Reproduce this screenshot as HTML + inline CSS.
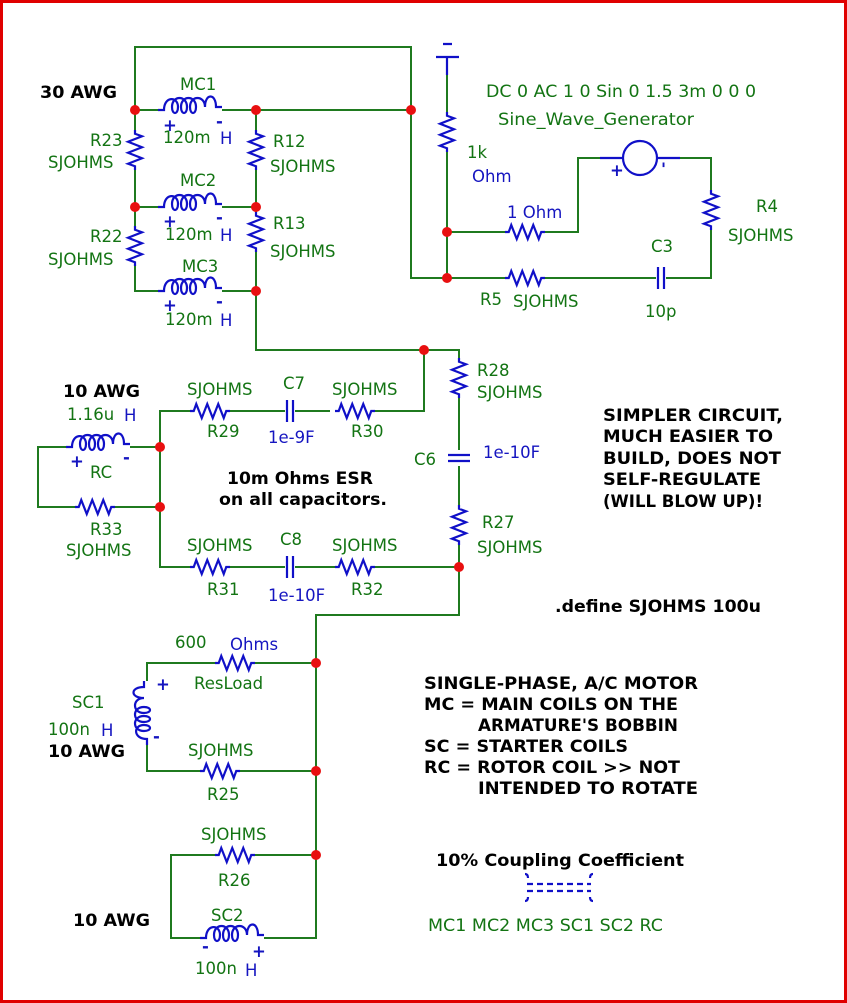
<!DOCTYPE html>
<html><head><meta charset="utf-8"><style>
html,body{margin:0;padding:0;background:#fff;}
svg{display:block;}
text{font-family:"DejaVu Sans","Liberation Sans",sans-serif;font-size:16.5px;}
.g{fill:#137413;}
.b{fill:#1515c0;}
.k{fill:#000;font-weight:bold;}
.w{stroke:#1f7a1f;stroke-width:2;fill:none;}
.c{stroke:#1010c8;stroke-width:2.2;fill:none;}
</style></head><body>
<svg width="847" height="1003" viewBox="0 0 847 1003" xmlns="http://www.w3.org/2000/svg">
<defs>
<path id="res" d="M0,0 h3.75 l2.5,-7 l5.5,14 l5.5,-14 l5.5,14 l5.5,-14 l5.5,14 l2.5,-7 h3.75"/>
<path id="ind" d="M0,0 h6 c0,-14 14,-14 14,-3 c0,8 -6,8 -6,0 c0,-12 15,-12 15,0 c0,8 -6,8 -6,0 c0,-12 15,-12 15,0 c0,8 -6,8 -6,0 c0,-12 15,-12 15,0 c0,-14 11,-14 11,0 h6"/>
</defs>
<rect x="1.5" y="1.5" width="844" height="1000" fill="#fff" stroke="#e00000" stroke-width="3"/>

<g class="w">
<path d="M135,110 V47 H411 V278 H505"/>
<path d="M135,110 H158 M222,110 H411"/>
<path d="M135,110 V130 M135,170 V226 M135,266 V291 H158 M222,291 H256"/>
<path d="M135,207 H158 M222,207 H256"/>
<path d="M256,110 V130 M256,170 V212 M256,252 V350 H459 V358 M459,398 V450 M459,466 V505 M459,545 V615 H316 V938 H264"/>
<path d="M424,350 V411 H375 M330,411 H295 M285,411 H230 M190,411 H160 V567 H190 M230,567 H285 M295,567 H335 M375,567 H459"/>
<path d="M160,447 H130 M66,447 H38 V507 H75 M115,507 H160"/>
<path d="M447,75 V112 M447,152 V278 M447,232 H505 M545,232 H578 V158 H600 M680,158 H711 V190 M711,230 V278 H666 M656,278 H545"/>
<path d="M316,663 H255 M215,663 H147 V681 M147,745 V771 H200 M240,771 H316"/>
<path d="M316,855 H255 M215,855 H171 V938 H200"/>
</g>

<g class="c">
<use href="#ind" x="158" y="110"/>
<use href="#ind" x="158" y="207"/>
<use href="#ind" x="158" y="291"/>
<use href="#ind" x="66" y="447"/>
<use href="#ind" x="200" y="938"/>
<use href="#ind" transform="translate(147,745) rotate(-90)"/>
<use href="#res" transform="translate(135,130) rotate(90)"/>
<use href="#res" transform="translate(135,226) rotate(90)"/>
<use href="#res" transform="translate(256,130) rotate(90)"/>
<use href="#res" transform="translate(256,212) rotate(90)"/>
<use href="#res" transform="translate(447,112) rotate(90)"/>
<use href="#res" transform="translate(711,190) rotate(90)"/>
<use href="#res" transform="translate(459,358) rotate(90)"/>
<use href="#res" transform="translate(459,505) rotate(90)"/>
<use href="#res" x="505" y="232"/>
<use href="#res" x="505" y="278"/>
<use href="#res" x="190" y="411"/>
<use href="#res" x="335" y="411"/>
<use href="#res" x="190" y="567"/>
<use href="#res" x="335" y="567"/>
<use href="#res" x="75" y="507"/>
<use href="#res" x="215" y="663"/>
<use href="#res" x="200" y="771"/>
<use href="#res" x="215" y="855"/>
<path d="M287,400 V422 M293,400 V422"/>
<path d="M287,556 V578 M293,556 V578"/>
<path d="M658,267 V289 M664,267 V289"/>
<path d="M448,455 H470 M448,461 H470"/>
<circle cx="640" cy="158" r="17"/>
<path d="M600,158 H623 M657,158 H680"/>
<path d="M443,44 H452 M436,57 H459 M447,57 V75"/>
<path d="M527,884 H591 M527,891 H591" stroke-dasharray="6,4"/>
<path d="M528,878 q0,-4 -3,-4 M528,897 q0,4 -3,4 M590,878 q0,-4 3,-4 M590,897 q0,4 3,4"/>
</g>

<g fill="#e81010">
<circle cx="135" cy="110" r="5"/><circle cx="256" cy="110" r="5"/><circle cx="411" cy="110" r="5"/>
<circle cx="135" cy="207" r="5"/><circle cx="256" cy="207" r="5"/><circle cx="256" cy="291" r="5"/>
<circle cx="447" cy="232" r="5"/><circle cx="447" cy="278" r="5"/>
<circle cx="424" cy="350" r="5"/><circle cx="160" cy="447" r="5"/><circle cx="160" cy="507" r="5"/>
<circle cx="459" cy="567" r="5"/><circle cx="316" cy="663" r="5"/><circle cx="316" cy="771" r="5"/><circle cx="316" cy="855" r="5"/>
</g>

<g class="b" style="font-size:14px;font-weight:bold">
<text x="163" y="131">+</text><text x="216" y="127">-</text>
<text x="163" y="227">+</text><text x="216" y="223">-</text>
<text x="163" y="311">+</text><text x="216" y="307">-</text>
<text x="70" y="467">+</text><text x="123" y="463">-</text>
<text x="156" y="690">+</text><text x="153" y="742">-</text>
<text x="202" y="952">-</text><text x="252" y="957">+</text>
<text x="610" y="176">+</text><text x="661" y="175">'</text>
</g>

<g class="g">
<text x="180" y="90">MC1</text><text x="163" y="143">120m</text>
<text x="180" y="186">MC2</text><text x="165" y="240">120m</text>
<text x="182" y="272">MC3</text><text x="165" y="325">120m</text>
<text x="90" y="146">R23</text><text x="48" y="168">SJOHMS</text>
<text x="273" y="147">R12</text><text x="270" y="172">SJOHMS</text>
<text x="273" y="229">R13</text><text x="270" y="257">SJOHMS</text>
<text x="90" y="242">R22</text><text x="48" y="265">SJOHMS</text>
<text x="486" y="97" textLength="270" lengthAdjust="spacingAndGlyphs">DC 0 AC 1 0 Sin 0 1.5 3m 0 0 0</text>
<text x="498" y="125" textLength="196" lengthAdjust="spacingAndGlyphs">Sine_Wave_Generator</text>
<text x="467" y="158">1k</text>
<text x="756" y="212">R4</text><text x="728" y="241">SJOHMS</text>
<text x="651" y="252">C3</text><text x="645" y="317">10p</text>
<text x="480" y="305">R5</text><text x="513" y="307">SJOHMS</text>
<text x="67" y="420">1.16u</text>
<text x="90" y="478">RC</text>
<text x="90" y="535">R33</text><text x="66" y="556">SJOHMS</text>
<text x="187" y="395">SJOHMS</text><text x="283" y="389">C7</text><text x="332" y="395">SJOHMS</text>
<text x="207" y="437">R29</text><text x="351" y="437">R30</text>
<text x="477" y="376">R28</text><text x="477" y="398">SJOHMS</text>
<text x="414" y="465">C6</text>
<text x="482" y="528">R27</text><text x="477" y="553">SJOHMS</text>
<text x="187" y="551">SJOHMS</text><text x="280" y="545">C8</text><text x="332" y="551">SJOHMS</text>
<text x="207" y="595">R31</text><text x="351" y="595">R32</text>
<text x="175" y="648">600</text><text x="194" y="689">ResLoad</text>
<text x="72" y="708">SC1</text><text x="48" y="735">100n</text>
<text x="188" y="756">SJOHMS</text><text x="207" y="800">R25</text>
<text x="201" y="840">SJOHMS</text><text x="218" y="886">R26</text>
<text x="211" y="921">SC2</text><text x="195" y="974">100n</text>
<text x="428" y="931" textLength="235" lengthAdjust="spacingAndGlyphs">MC1 MC2 MC3 SC1 SC2 RC</text>
</g>
<g class="b">
<text x="220" y="144">H</text><text x="220" y="241">H</text><text x="220" y="326">H</text>
<text x="472" y="182">Ohm</text><text x="507" y="218">1 Ohm</text>
<text x="124" y="421">H</text>
<text x="268" y="443">1e-9F</text><text x="483" y="458">1e-10F</text><text x="268" y="601">1e-10F</text>
<text x="230" y="650">Ohms</text><text x="101" y="736">H</text><text x="245" y="976">H</text>
</g>
<g class="k">
<text x="40" y="98" textLength="77" lengthAdjust="spacingAndGlyphs">30 AWG</text>
<text x="63" y="397" textLength="77" lengthAdjust="spacingAndGlyphs">10 AWG</text>
<text x="48" y="757" textLength="77" lengthAdjust="spacingAndGlyphs">10 AWG</text>
<text x="73" y="926" textLength="77" lengthAdjust="spacingAndGlyphs">10 AWG</text>
<text x="227" y="484" textLength="146" lengthAdjust="spacingAndGlyphs">10m Ohms ESR</text>
<text x="219" y="505" textLength="168" lengthAdjust="spacingAndGlyphs">on all capacitors.</text>
<text x="603" y="421" textLength="180" lengthAdjust="spacingAndGlyphs">SIMPLER CIRCUIT,</text>
<text x="603" y="442" textLength="170" lengthAdjust="spacingAndGlyphs">MUCH EASIER TO</text>
<text x="603" y="464" textLength="178" lengthAdjust="spacingAndGlyphs">BUILD, DOES NOT</text>
<text x="603" y="485" textLength="158" lengthAdjust="spacingAndGlyphs">SELF-REGULATE</text>
<text x="603" y="507" textLength="160" lengthAdjust="spacingAndGlyphs">(WILL BLOW UP)!</text>
<text x="555" y="612" textLength="206" lengthAdjust="spacingAndGlyphs">.define SJOHMS 100u</text>
<text x="424" y="689" textLength="274" lengthAdjust="spacingAndGlyphs">SINGLE-PHASE, A/C MOTOR</text>
<text x="424" y="710" textLength="254" lengthAdjust="spacingAndGlyphs">MC = MAIN COILS ON THE</text>
<text x="478" y="731" textLength="200" lengthAdjust="spacingAndGlyphs">ARMATURE'S BOBBIN</text>
<text x="424" y="752" textLength="204" lengthAdjust="spacingAndGlyphs">SC = STARTER COILS</text>
<text x="424" y="773" textLength="256" lengthAdjust="spacingAndGlyphs">RC = ROTOR COIL &gt;&gt; NOT</text>
<text x="478" y="794" textLength="220" lengthAdjust="spacingAndGlyphs">INTENDED TO ROTATE</text>
<text x="436" y="866" textLength="248" lengthAdjust="spacingAndGlyphs">10% Coupling Coefficient</text>
</g>
</svg>
</body></html>
